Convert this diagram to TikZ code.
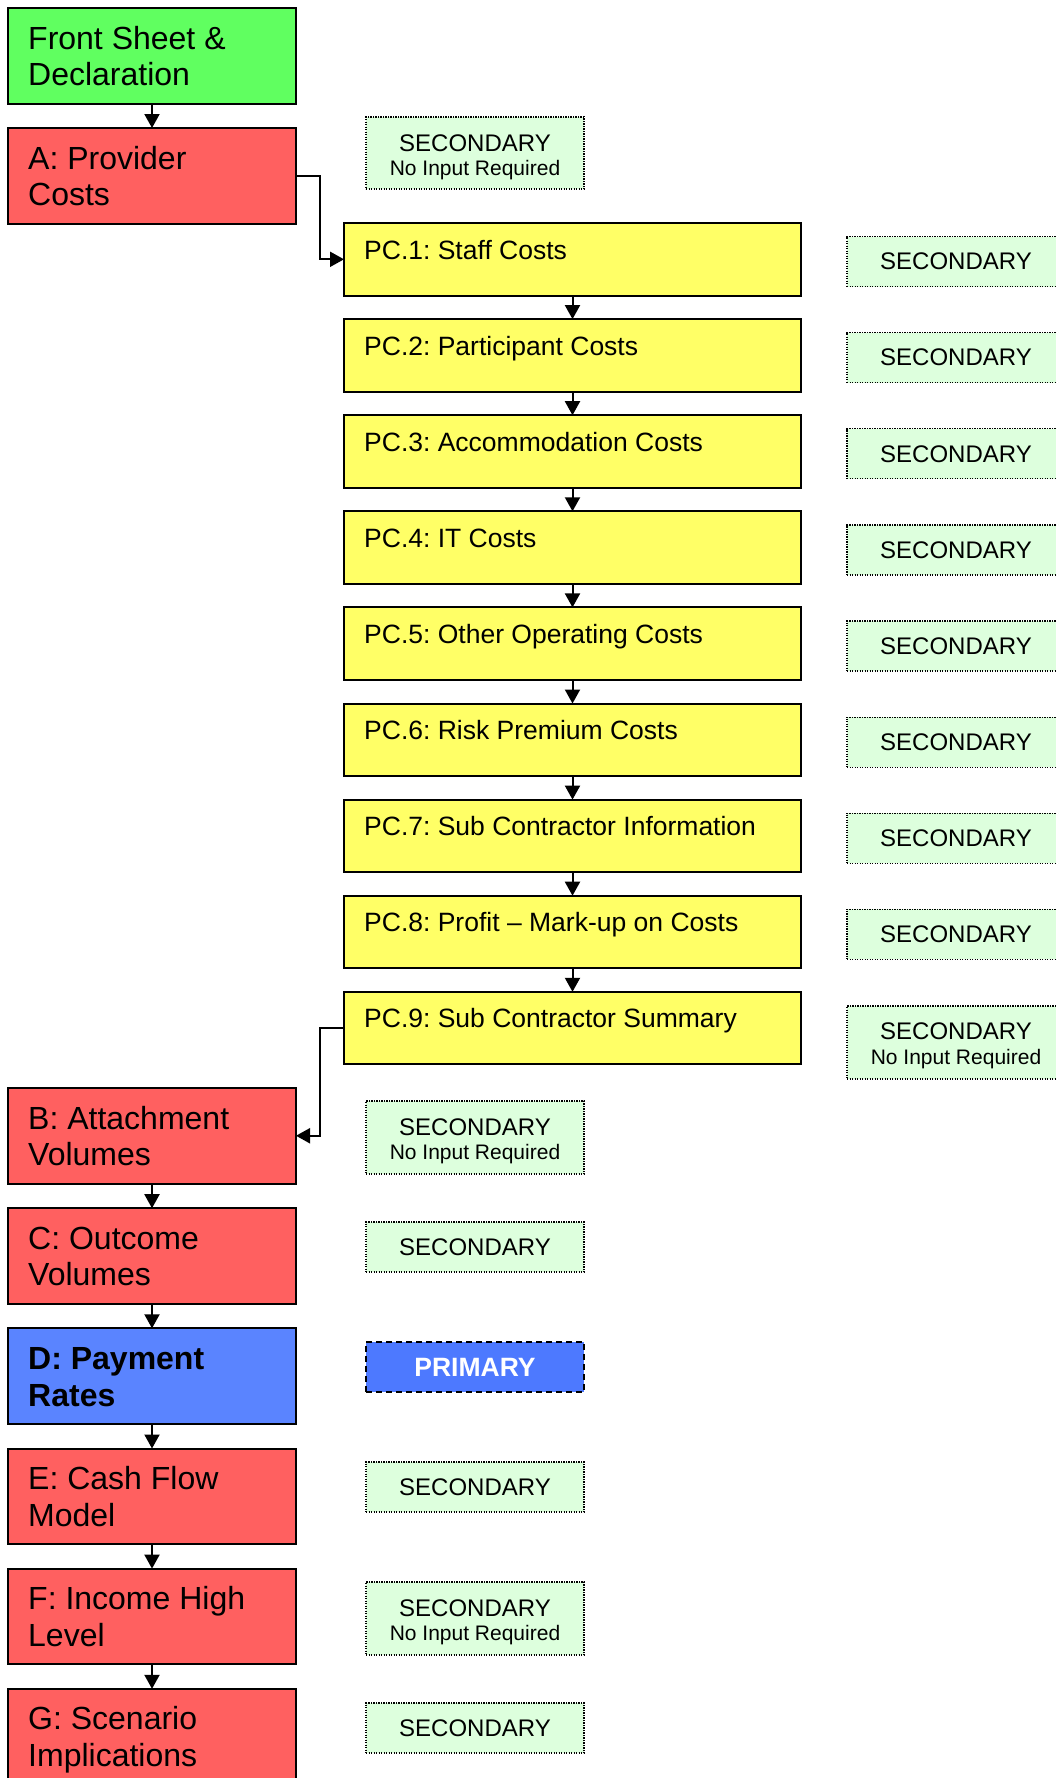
\documentclass[tikz,border=0pt]{standalone}
\usepackage{fontspec}
\setmainfont{Liberation Sans}
\frenchspacing
\usetikzlibrary{arrows.meta,calc}
\definecolor{cgreen}{RGB}{96,255,96}
\definecolor{cred}{RGB}{255,96,96}
\definecolor{cblue}{RGB}{90,132,255}
\definecolor{cprim}{RGB}{77,121,255}
\definecolor{cyellow}{RGB}{255,255,102}
\definecolor{clight}{RGB}{221,255,221}
\begin{document}
\begin{tikzpicture}[x=1pt,y=-1pt,
  bx/.style={draw=black,line width=2pt,anchor=north west,inner sep=0pt,outer sep=0pt},
  lbox/.style={bx,minimum width=288pt,minimum height=95.5pt,fill=cred},
  pcbox/.style={bx,minimum width=457pt,minimum height=72.6pt,fill=cyellow},
  sbox/.style={draw=black,line width=1.2pt,dash pattern=on 1.2pt off 1.3pt,fill=clight,
    anchor=north west,inner sep=0pt,outer sep=0pt,minimum width=218pt,minimum height=#1,
    font=\fontsize{24}{28}\selectfont},
  pbox/.style={draw=black,line width=2pt,dash pattern=on 6pt off 4pt,fill=cprim,
    anchor=north west,inner sep=0pt,outer sep=0pt,minimum width=218pt,minimum height=50pt,
    text=white,font=\fontsize{26.5}{30}\selectfont\bfseries},
  ltext/.style={anchor=base west,inner sep=0pt,align=left,font=\fontsize{32}{36.7}\selectfont},
  pctext/.style={anchor=base west,inner sep=0pt,font=\fontsize{26.5}{30}\selectfont},
  stext/.style={anchor=base,inner sep=0pt,font=\fontsize{24}{28}\selectfont},
  ntext/.style={anchor=base,inner sep=0pt,font=\fontsize{21}{24}\selectfont},
  conn/.style={line width=2pt,-{Triangle[length=14pt,width=15pt]}}
]
\clip (0,0) rectangle (1056,1778);
% left column
\node[lbox,fill=cgreen] (fs) at (8,8) {};
\node[ltext] (fst) at ($(fs.north west)+(20,77.7)$) {Front Sheet \&\\Declaration};
\node[lbox] (a) at (8,128) {};
\node[ltext] (at) at ($(a.north west)+(20,77.7)$) {A: Provider\\Costs};
\node[lbox] (b) at (8,1088) {};
\node[ltext] (bt) at ($(b.north west)+(20,77.7)$) {B: Attachment\\Volumes};
\node[lbox] (c) at (8,1208.2) {};
\node[ltext] (ct) at ($(c.north west)+(20,77.7)$) {C: Outcome\\Volumes};
\node[lbox,fill=cblue] (d) at (8,1328.3) {};
\node[ltext,font=\fontsize{32}{36.7}\selectfont\bfseries] (dt) at ($(d.north west)+(20,77.7)$) {D: Payment\\Rates};
\node[lbox] (e) at (8,1448.5) {};
\node[ltext] (et) at ($(e.north west)+(20,77.7)$) {E: Cash Flow\\Model};
\node[lbox] (f) at (8,1568.6) {};
\node[ltext] (ft) at ($(f.north west)+(20,77.7)$) {F: Income High\\Level};
\node[lbox] (g) at (8,1688.8) {};
\node[ltext] (gt) at ($(g.north west)+(20,77.7)$) {G: Scenario\\Implications};
% middle secondary boxes
\node[sbox=72pt] (sa) at (366,117) {};
\node[stext] (sat) at ($(sa.north)+(0,34)$) {SECONDARY};
\node[ntext] (san) at ($(sa.north)+(0,58)$) {No Input Required};
\node[sbox=73pt] (sb) at (366,1101) {};
\node[stext] (sbt) at ($(sb.north)+(0,34)$) {SECONDARY};
\node[ntext] (sbn) at ($(sb.north)+(0,58)$) {No Input Required};
\node[sbox=50pt] (sc) at (366,1222) {SECONDARY};
\node[pbox] (sd) at (366,1342) {PRIMARY};
\node[sbox=50pt] (se) at (366,1462) {SECONDARY};
\node[sbox=73pt] (sf) at (366,1582) {};
\node[stext] (sft) at ($(sf.north)+(0,34)$) {SECONDARY};
\node[ntext] (sfn) at ($(sf.north)+(0,58)$) {No Input Required};
\node[sbox=50pt] (sg) at (366,1703) {SECONDARY};
% PC boxes
\foreach \i/\t [evaluate=\i as \y using 223+(\i-1)*96.1] in
  {1/Staff Costs,2/Participant Costs,3/Accommodation Costs,4/IT Costs,
   5/Other Operating Costs,6/Risk Premium Costs,7/Sub Contractor Information,
   8/Profit -- Mark-up on Costs,9/Sub Contractor Summary}{
  \node[pcbox] (pc\i) at (344,\y) {};
  \node[pctext] (pct\i) at ($(pc\i.north west)+(20,36)$) {PC.\i: \t};
}
\foreach \i [evaluate=\i as \y using 223+(\i-1)*96.1+13.6] in {1,...,8}{
  \node[sbox=50pt] (rs\i) at (847,\y) {SECONDARY};
}
\node[sbox=73pt] (rs9) at (847,1006) {};
\node[stext] (rs9t) at ($(rs9.north)+(0,33)$) {SECONDARY};
\node[ntext] (rs9n) at ($(rs9.north)+(0,58)$) {No Input Required};
% connectors
\draw[conn] (fs.south) -- (a.north);
\draw[conn] (a.east) -- ++(24,0) |- (pc1.west);
\foreach \i in {1,...,8}{
  \pgfmathtruncatemacro{\j}{\i+1}
  \draw[conn] (pc\i.south) -- (pc\j.north);
}
\draw[conn] (pc9.west) -- ++(-24,0) |- (b.east);
\draw[conn] (b.south) -- (c.north);
\draw[conn] (c.south) -- (d.north);
\draw[conn] (d.south) -- (e.north);
\draw[conn] (e.south) -- (f.north);
\draw[conn] (f.south) -- (g.north);
\end{tikzpicture}
\end{document}
